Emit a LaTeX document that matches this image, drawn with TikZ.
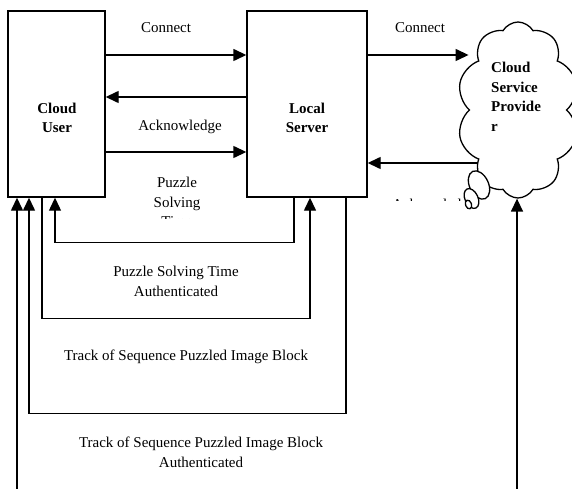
\documentclass[tikz,border=0pt]{standalone}
\usepackage{fontspec}
\setmainfont{Liberation Serif}
\usetikzlibrary{arrows.meta,shapes.symbols}
\pgfdeclarelayer{background}
\pgfsetlayers{background,main}

\begin{document}
\begin{tikzpicture}[x=1pt, y=-1pt,
  font=\fontsize{15}{19.5}\selectfont,
  box/.style={draw, line width=1.4pt, inner sep=0pt},
  txt/.style={align=center, inner sep=0pt},
  bold/.style={txt, font=\fontsize{15}{19.5}\selectfont\bfseries},
  arr/.style={line width=1.4pt, -{Triangle[length=13pt,width=12pt]}},
  bubble/.style={draw, line width=1.3pt, fill=white}]
\useasboundingbox (0,0) rectangle (572,489);

% blocks
\node[box, minimum width=97pt, minimum height=186pt] (cu) at (56.5,104) {};
\node[box, minimum width=120pt, minimum height=186pt] (ls) at (307,104) {};
\node[bold] (cuText) at (57,118) {Cloud\\User};
\node[bold] (lsText) at (307,118) {Local\\Server};
\node[cloud, draw, fill=white, line width=1.3pt, cloud puffs=10, cloud puff arc=120,
  cloud ignores aspect, minimum width=122pt, minimum height=176pt] (csp) at (518,110) {};
\node[bold, align=left, anchor=west] (cspText) at (491,97) {Cloud\\Service\\Provide\\r};

% free ends
\coordinate (cuFree) at (17,489);
\coordinate (cspFree) at (517,489);

\begin{pgfonlayer}{background}
\draw[arr] (cu.east |- 0,55) -- (ls.west |- 0,55);
\draw[arr] (ls.west |- 0,97) -- (cu.east |- 0,97);
\draw[arr] (cu.east |- 0,152) -- (ls.west |- 0,152);
\draw[arr] (ls.east |- 0,55) -- (csp.west |- 0,55);
\draw[arr] (csp.center |- 0,163) -- (ls.east |- 0,163);
% loops below
\draw[arr, line width=1.2pt] (ls.south -| 294,0) -- ++(0,45) -| (cu.south -| 55,0);
\draw[arr] (cu.south -| 42,0) -- ++(0,121) -| (ls.south -| 310,0);
\draw[arr] (ls.south -| 346,0) -- ++(0,216) -| (cu.south -| 29,0);
\draw[arr] (cuFree) -- (cu.south -| cuFree);
\draw[arr] (cspFree) -- (csp.south -| cspFree);
\end{pgfonlayer}

% labels
\node[txt] (conn1) at (166,28) {Connect};
\node[txt] (conn2) at (420,28) {Connect};
\node[txt] (ack1) at (180,127) {Acknowledge};
\begin{scope}
\clip (100,160) rectangle (240,218.5);
\node[txt] (pst1) at (177,202) {Puzzle\\Solving\\Time};
\end{scope}
\begin{scope}
\clip (370,190) rectangle (470,200);
\node[txt, anchor=base west] (ack2) at (392,209) {Acknowledge};
\end{scope}
\node[txt] (pst2) at (176,281.5) {Puzzle Solving Time\\Authenticated};
\node[txt] (track1) at (186,357) {Track of Sequence Puzzled Image Block};
\node[txt] (track2) at (201,452.5) {Track of Sequence Puzzled Image Block\\Authenticated};

% thought bubbles
\draw[bubble, shift={(479,185)}, rotate=25] (0,0) ellipse (9.5 and 15);
\draw[bubble, shift={(471.5,198.5)}, rotate=25] (0,0) ellipse (6.5 and 10.5);
\draw[bubble, shift={(468.5,204.5)}, rotate=20] (0,0) ellipse (3 and 4.5);
\end{tikzpicture}
\end{document}
